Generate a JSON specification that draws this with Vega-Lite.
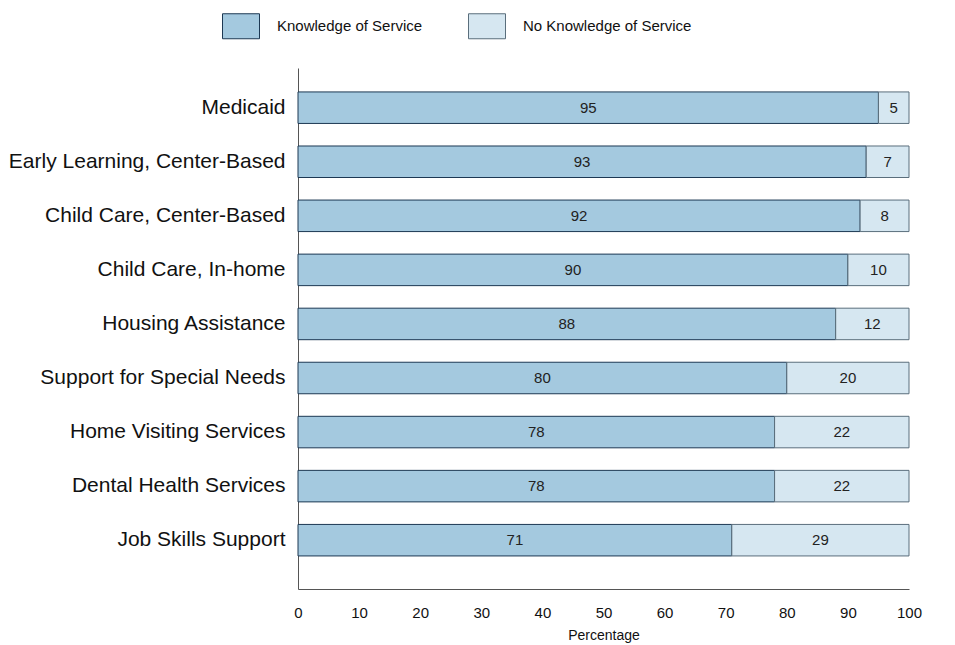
{
  "$schema": "https://vega.github.io/schema/vega-lite/v6.json",
  "width": 611,
  "height": 521,
  "autosize": "none",
  "padding": {"left": 298, "top": 68, "right": 46, "bottom": 56},
  "background": "white",
  "config": {
    "font": "Liberation Sans",
    "view": {"stroke": null}
  },
  "data": {
    "values": [
      {"service": "Medicaid", "group": "Knowledge of Service", "value": 95},
      {"service": "Medicaid", "group": "No Knowledge of Service", "value": 5},
      {"service": "Early Learning, Center-Based", "group": "Knowledge of Service", "value": 93},
      {"service": "Early Learning, Center-Based", "group": "No Knowledge of Service", "value": 7},
      {"service": "Child Care, Center-Based", "group": "Knowledge of Service", "value": 92},
      {"service": "Child Care, Center-Based", "group": "No Knowledge of Service", "value": 8},
      {"service": "Child Care, In-home", "group": "Knowledge of Service", "value": 90},
      {"service": "Child Care, In-home", "group": "No Knowledge of Service", "value": 10},
      {"service": "Housing Assistance", "group": "Knowledge of Service", "value": 88},
      {"service": "Housing Assistance", "group": "No Knowledge of Service", "value": 12},
      {"service": "Support for Special Needs", "group": "Knowledge of Service", "value": 80},
      {"service": "Support for Special Needs", "group": "No Knowledge of Service", "value": 20},
      {"service": "Home Visiting Services", "group": "Knowledge of Service", "value": 78},
      {"service": "Home Visiting Services", "group": "No Knowledge of Service", "value": 22},
      {"service": "Dental Health Services", "group": "Knowledge of Service", "value": 78},
      {"service": "Dental Health Services", "group": "No Knowledge of Service", "value": 22},
      {"service": "Job Skills Support", "group": "Knowledge of Service", "value": 71},
      {"service": "Job Skills Support", "group": "No Knowledge of Service", "value": 29}
    ]
  },
  "transform": [
    {"calculate": "datum.group === 'Knowledge of Service' ? 0 : 1", "as": "ord"},
    {"stack": "value", "groupby": ["service"], "sort": [{"field": "ord", "order": "ascending"}], "as": ["x0", "x1"]},
    {"calculate": "(datum.x0 + datum.x1) / 2", "as": "mid"}
  ],
  "encoding": {
    "y": {
      "field": "service",
      "type": "nominal",
      "sort": null,
      "scale": {"paddingInner": 0.417, "paddingOuter": 0.527, "align": 0.42},
      "axis": {
        "title": null,
        "ticks": false,
        "domainColor": "#555555",
        "domainWidth": 1,
        "labelFontSize": 21,
        "labelColor": "#111111",
        "labelPadding": 13,
        "labelLimit": 400
      }
    }
  },
  "layer": [
    {
      "mark": {"type": "bar", "strokeWidth": 1},
      "encoding": {
        "x": {
          "field": "x0",
          "type": "quantitative",
          "scale": {"domain": [0, 100], "nice": false},
          "axis": {
            "title": "Percentage",
            "values": [0, 10, 20, 30, 40, 50, 60, 70, 80, 90, 100],
            "grid": false,
            "ticks": false,
            "domainColor": "#555555",
            "domainWidth": 1,
            "labelFontSize": 15,
            "labelColor": "#111111",
            "labelPadding": 16,
            "labelFlush": false,
            "titleFontSize": 14,
            "titleFontWeight": "normal",
            "titleColor": "#111111",
            "titlePadding": 8
          }
        },
        "x2": {"field": "x1"},
        "color": {
          "field": "group",
          "type": "nominal",
          "scale": {
            "domain": ["Knowledge of Service", "No Knowledge of Service"],
            "range": ["#a4c9df", "#d6e7f1"]
          },
          "legend": {
            "title": null,
            "orient": "none",
            "legendX": -70,
            "legendY": -55,
            "direction": "horizontal",
            "columns": 2,
            "symbolType": "M-1.48,-1h2.96v2h-2.96Z",
            "symbolSize": 625,
            "symbolStrokeColor": "#4f6474",
            "symbolStrokeWidth": 1,
            "symbolOpacity": 1,
            "labelFontSize": 15,
            "labelColor": "#111111",
            "labelOffset": 23,
            "columnPadding": 43,
            "labelLimit": 300
          }
        },
        "stroke": {
          "field": "group",
          "type": "nominal",
          "scale": {
            "domain": ["Knowledge of Service", "No Knowledge of Service"],
            "range": ["#1c3853", "#5a6e7c"]
          },
          "legend": null
        },
        "order": {"field": "ord"}
      }
    },
    {
      "mark": {"type": "text", "fontSize": 15, "color": "#222222", "baseline": "middle", "align": "center"},
      "encoding": {
        "x": {"field": "mid", "type": "quantitative"},
        "text": {"field": "value", "type": "quantitative"}
      }
    }
  ]
}
